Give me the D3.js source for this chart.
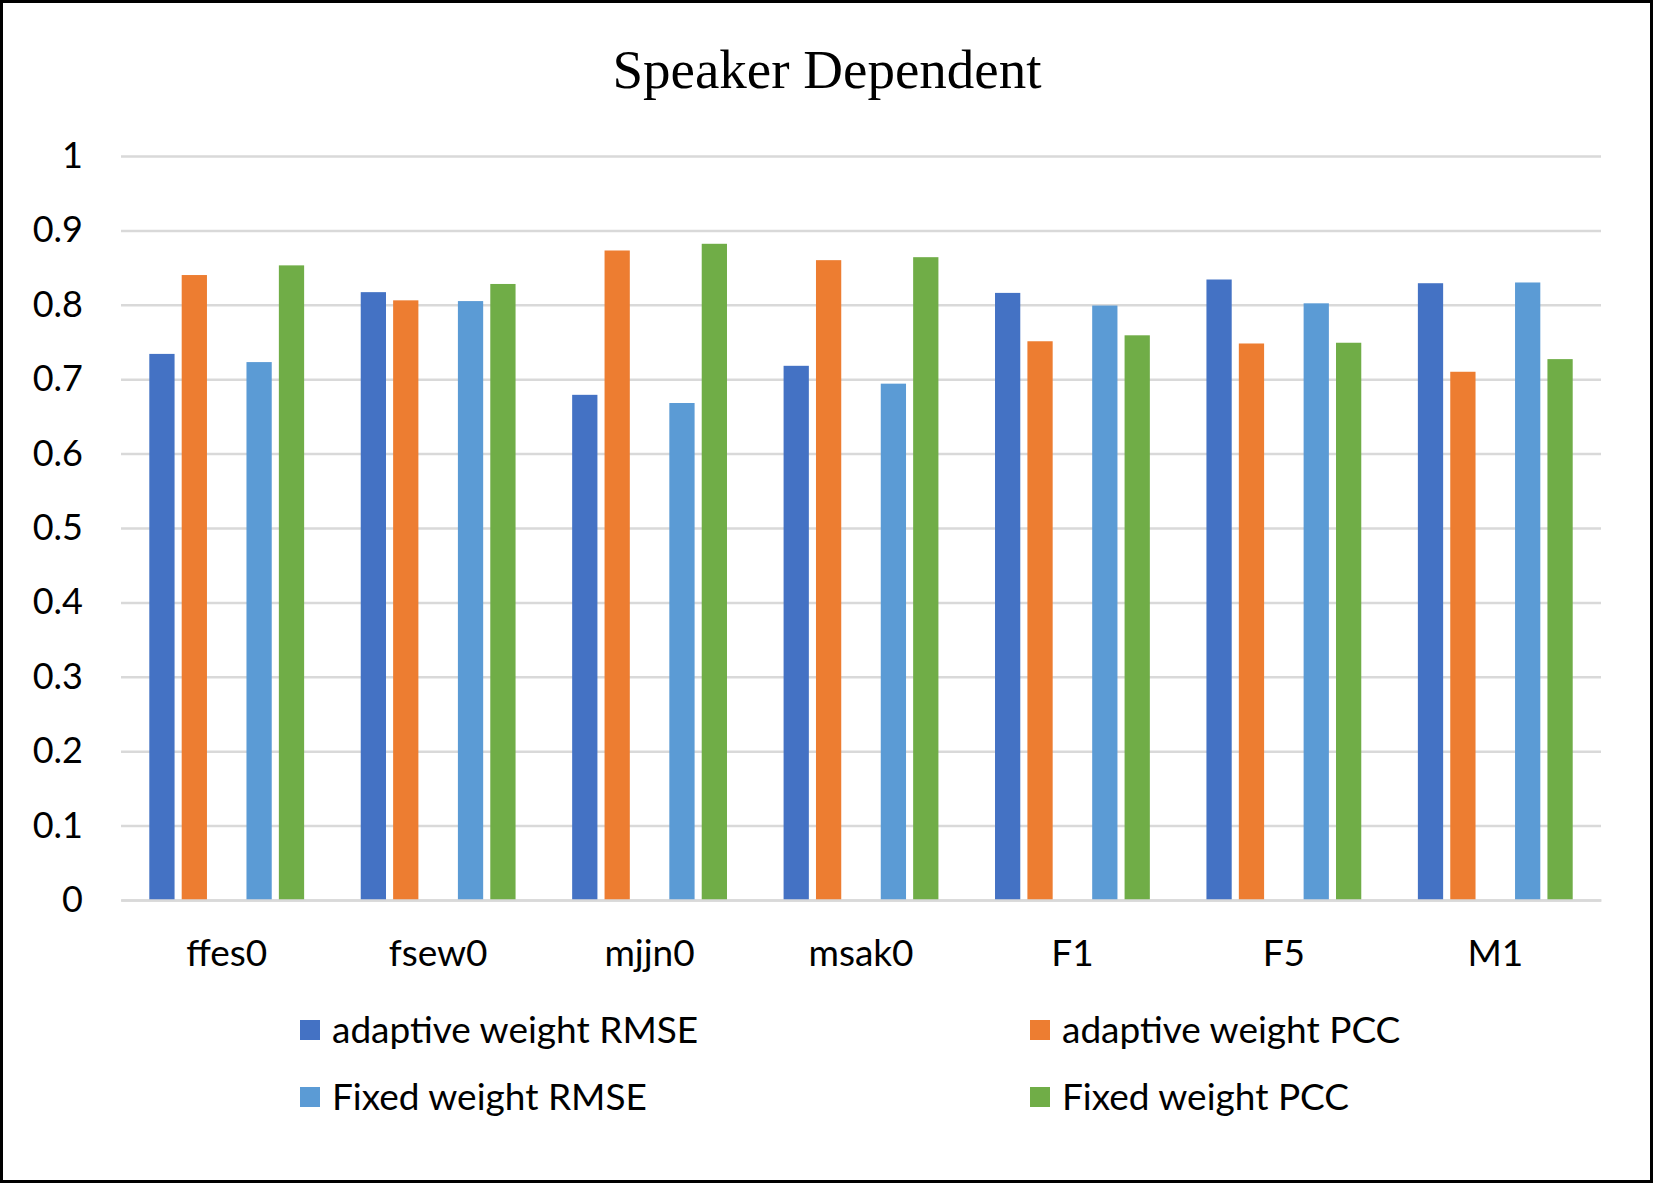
<!DOCTYPE html>
<html>
<head>
<meta charset="utf-8">
<script src="https://cdn.jsdelivr.net/npm/d3@7"></script>
<style>
  body { margin: 0; background: #fff; }
  svg { display: block; }
</style>
</head>
<body>
<div id="chart"></div>
<script>
'use strict';

// Data
const categories = ['ffes0', 'fsew0', 'mjjn0', 'msak0', 'F1', 'F5', 'M1'];
const seriesNames = ['adaptive weight RMSE', 'adaptive weight PCC', 'Fixed weight RMSE', 'Fixed weight PCC'];
const adaptiveRMSE = [0.734, 0.817, 0.679, 0.718, 0.816, 0.834, 0.829];
const adaptivePCC  = [0.840, 0.806, 0.873, 0.860, 0.751, 0.748, 0.710];
const fixedRMSE    = [0.723, 0.805, 0.668, 0.694, 0.799, 0.802, 0.830];
const fixedPCC     = [0.853, 0.828, 0.882, 0.864, 0.759, 0.749, 0.727];
const yTicks = [0, 0.1, 0.2, 0.3, 0.4, 0.5, 0.6, 0.7, 0.8, 0.9, 1];
// the chart leaves an empty slot between the adaptive and fixed bars
const slots = ['adaptive weight RMSE', 'adaptive weight PCC', 'blank', 'Fixed weight RMSE', 'Fixed weight PCC'];
const colors = ['#4472C4', '#ED7D31', '#5B9BD5', '#70AD47'];

const seriesValues = [adaptiveRMSE, adaptivePCC, fixedRMSE, fixedPCC];

const W = 1653, H = 1184;
const plot = {left: 121, right: 1601, top: 156, bottom: 900};
const font = 'Lato, "Open Sans", sans-serif';

const svg = d3.select('#chart')
    .append('svg')
    .attr('width', W)
    .attr('height', H);

svg.append('rect')
    .attr('x', 1.5).attr('y', 1.5)
    .attr('width', W - 3).attr('height', H - 4)
    .attr('fill', '#fff')
    .attr('stroke', '#000')
    .attr('stroke-width', 3);

svg.append('text')
    .attr('x', 827)
    .attr('y', 88)
    .attr('text-anchor', 'middle')
    .style('font-family', '"Liberation Serif", "Times New Roman", serif')
    .style('font-size', '55px')
    .attr('fill', '#000')
    .text('Speaker Dependent');

const x0 = d3.scaleBand()
    .domain(categories)
    .range([plot.left, plot.right]);

const x1 = d3.scaleBand()
    .domain(slots)
    .range([x0.bandwidth() * 0.117, x0.bandwidth() * 0.883])
    .paddingInner(0.22)
    .paddingOuter(0.11);

const y = d3.scaleLinear()
    .domain([0, 1])
    .range([plot.bottom, plot.top]);

const colorScale = d3.scaleOrdinal(seriesNames, colors);

// gridlines + y labels
const yAxis = svg.append('g')
    .attr('transform', `translate(${plot.left},0)`)
    .call(d3.axisLeft(y).tickValues(yTicks).tickSize(-(plot.right - plot.left)).tickPadding(38).tickFormat(d3.format('~g')))
    .call(g => g.select('.domain').remove());

yAxis.selectAll('.tick line')
    .attr('stroke', '#d9d9d9')
    .attr('stroke-width', 2.5);

yAxis.selectAll('.tick text')
    .style('font-family', font)
    .style('font-size', '36px')
    .attr('fill', '#000');

// bars
const rows = categories.map((c, i) => ({
    category: c,
    values: seriesNames.map((s, j) => ({series: s, value: seriesValues[j][i]}))
}));

svg.append('g')
  .selectAll('g')
  .data(rows)
  .join('g')
    .attr('transform', d => `translate(${x0(d.category)},0)`)
  .selectAll('rect')
  .data(d => d.values)
  .join('rect')
    .attr('x', d => x1(d.series))
    .attr('width', x1.bandwidth())
    .attr('y', d => y(d.value))
    .attr('height', d => y(0) - y(d.value))
    .attr('fill', d => colorScale(d.series));

// category axis
const xAxis = svg.append('g')
    .attr('transform', `translate(0,${plot.bottom})`)
    .call(d3.axisBottom(x0).tickSize(0).tickPadding(40))
    .call(g => g.select('.domain').attr('stroke', '#d9d9d9').attr('stroke-width', 2.5));

xAxis.selectAll('.tick text')
    .style('font-family', font)
    .style('font-size', '37px')
    .attr('fill', '#000');

// legend
const legendPos = [[300, 1030], [1030, 1030], [300, 1097], [1030, 1097]];

const legend = svg.append('g')
  .selectAll('g')
  .data(seriesNames)
  .join('g')
    .attr('transform', (d, i) => `translate(${legendPos[i][0]},${legendPos[i][1]})`);

legend.append('rect')
    .attr('x', 0).attr('y', -10)
    .attr('width', 20).attr('height', 20)
    .attr('fill', d => colorScale(d));

legend.append('text')
    .attr('x', 32)
    .attr('dy', '0.35em')
    .style('font-family', font)
    .style('font-size', '37px')
    .attr('fill', '#000')
    .text(d => d);
</script>
</body>
</html>
